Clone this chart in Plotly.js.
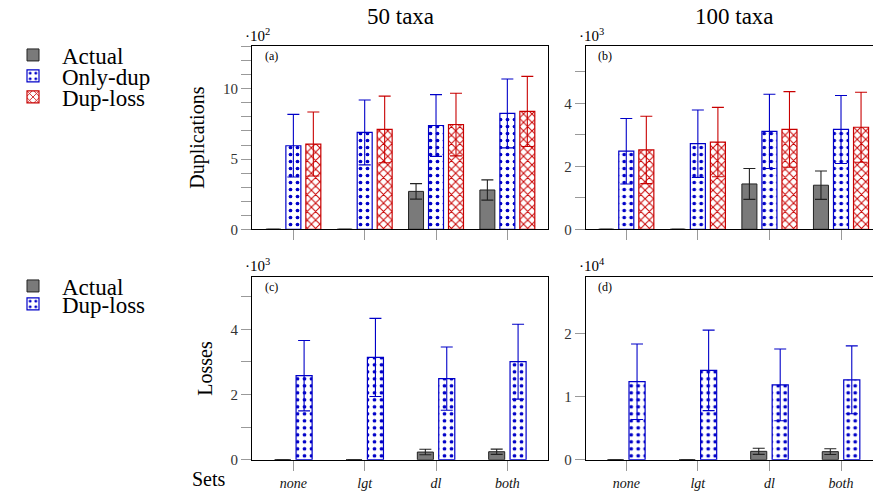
<!DOCTYPE html>
<html>
<head>
<meta charset="utf-8">
<script src="https://cdn.plot.ly/plotly-3.0.1.min.js"></script>
<style>html,body{margin:0;padding:0;background:#fff;}#chart{width:873px;height:493px;}</style>
</head>
<body>
<div id="chart"></div>
<script>
// ---- data (values in the units shown on each panel's axis) ----
const sets = ["none", "lgt", "dl", "both"];

// (a) Duplications, 50 taxa  (x10^2)
const dup50Actual      = [0, 0, 2.70, 2.80];
const dup50ActualErr   = [0, 0, 0.55, 0.72];
const dup50OnlyDup     = [5.95, 6.90, 7.39, 8.25];
const dup50OnlyDupErr  = [2.23, 2.31, 2.20, 2.45];
const dup50DupLoss     = [6.07, 7.11, 7.46, 8.39];
const dup50DupLossErr  = [2.28, 2.37, 2.23, 2.50];

// (b) Duplications, 100 taxa (x10^3)
const dup100Actual     = [0, 0, 1.44, 1.40];
const dup100ActualErr  = [0, 0, 0.49, 0.45];
const dup100OnlyDup    = [2.48, 2.72, 3.11, 3.17];
const dup100OnlyDupErr = [1.04, 1.07, 1.18, 1.08];
const dup100DupLoss    = [2.52, 2.77, 3.17, 3.24];
const dup100DupLossErr = [1.07, 1.10, 1.20, 1.11];

// (c) Losses, 50 taxa (x10^3)
const loss50Actual     = [0, 0, 0.235, 0.245];
const loss50ActualErr  = [0, 0, 0.085, 0.080];
const loss50DupLoss    = [2.58, 3.14, 2.49, 3.01];
const loss50DupLossErr = [1.08, 1.20, 0.97, 1.15];

// (d) Losses, 100 taxa (x10^4)
const loss100Actual     = [0, 0, 0.133, 0.128];
const loss100ActualErr  = [0, 0, 0.048, 0.045];
const loss100DupLoss    = [1.24, 1.42, 1.19, 1.27];
const loss100DupLossErr = [0.60, 0.64, 0.57, 0.54];

// ---- styling ----
const W = 873, H = 493;
const px = x => x / W;
const py = y => 1 - y / H;
const SERIF = "Liberation Serif";
const BLUE = "#0000c8", RED = "#c80000", GRAY = "#7a7a7a";

const styles = {
  actual:  {marker: {color: GRAY, line: {color: "#222", width: 1}}, err: "#222"},
  onlydup: {marker: {color: "white", line: {color: BLUE, width: 1.2},
            pattern: {shape: ".", fgcolor: BLUE, bgcolor: "white", size: 7, solidity: 0.22}}, err: BLUE},
  duploss: {marker: {color: "white", line: {color: RED, width: 1.2},
            pattern: {shape: "x", fgcolor: RED, bgcolor: "white", size: 6, solidity: 0.3}}, err: RED},
  duplossBlue: {marker: {color: "white", line: {color: BLUE, width: 1.2},
            pattern: {shape: ".", fgcolor: BLUE, bgcolor: "white", size: 7, solidity: 0.22}}, err: BLUE}
};

function bar(name, y, err, st, xa, ya, offset, width, legend, showlegend) {
  return {
    type: "bar", name: name, x: sets, y: y,
    xaxis: xa, yaxis: ya, offset: offset, width: width,
    marker: st.marker,
    error_y: {type: "data", array: err, visible: true, color: st.err, thickness: 1.1, width: 6},
    legend: legend, showlegend: showlegend
  };
}

const wTop = 0.21, wBot = 0.225;
const data = [
  bar("Actual",   dup50Actual,  dup50ActualErr,  styles.actual,  "x",  "y",  -0.385, wTop, "legend", true),
  bar("Only-dup", dup50OnlyDup, dup50OnlyDupErr, styles.onlydup, "x",  "y",  -0.105, wTop, "legend2", true),
  bar("Dup-loss", dup50DupLoss, dup50DupLossErr, styles.duploss, "x",  "y",   0.175, wTop, "legend3", true),
  bar("Actual",   dup100Actual,  dup100ActualErr,  styles.actual,  "x2", "y2", -0.385, wTop, "legend", false),
  bar("Only-dup", dup100OnlyDup, dup100OnlyDupErr, styles.onlydup, "x2", "y2", -0.105, wTop, "legend2", false),
  bar("Dup-loss", dup100DupLoss, dup100DupLossErr, styles.duploss, "x2", "y2",  0.175, wTop, "legend3", false),
  bar("Actual",   loss50Actual,  loss50ActualErr,  styles.actual,      "x3", "y3", -0.262, wBot, "legend4", true),
  bar("Dup-loss", loss50DupLoss, loss50DupLossErr, styles.duplossBlue, "x3", "y3",  0.038, wBot, "legend5", true),
  bar("Actual",   loss100Actual,  loss100ActualErr,  styles.actual,      "x4", "y4", -0.262, wBot, "legend4", false),
  bar("Dup-loss", loss100DupLoss, loss100DupLossErr, styles.duplossBlue, "x4", "y4",  0.038, wBot, "legend5", false)
];

const tickFont = {family: SERIF, size: 15, color: "#333"};
function xax(dom, anchor, range, labels) {
  return {
    domain: dom, anchor: anchor, type: "category", categoryorder: "array", categoryarray: sets,
    range: range, showline: true, mirror: true, linecolor: "#000", linewidth: 1,
    ticks: "outside", ticklen: 10, tickcolor: "#999", tickwidth: 1,
    showticklabels: labels, tickfont: {family: SERIF, size: 14, color: "#111", style: "italic"},
    showgrid: false, zeroline: false, fixedrange: true
  };
}
function yax(dom, anchor, range, dtick, minor, title) {
  const a = {
    domain: dom, anchor: anchor, range: range, dtick: dtick, tick0: 0,
    showline: true, mirror: true, linecolor: "#000", linewidth: 1,
    ticks: "outside", ticklen: 10, tickcolor: "#999", tickwidth: 1,
    tickfont: tickFont, showgrid: false, zeroline: false, fixedrange: true
  };
  if (minor) a.minor = {dtick: minor, ticks: "outside", ticklen: 10, tickcolor: "#999", tickwidth: 1, showgrid: false};
  if (title) a.title = {text: title, font: {family: SERIF, size: 20, color: "#000"}, standoff: 12};
  return a;
}

const xdomA = [px(252), px(548)], xdomB = [px(585.7), 1];
const ydomTop = [py(229.3), py(46)], ydomBot = [py(459.7), py(277.3)];
const rangeA = [-0.58, 3.57], rangeB = [-0.567, 3.447];

const ann = (x, y, text, size, opts) => Object.assign({
  xref: "paper", yref: "paper", x: px(x), y: py(y), text: text, showarrow: false,
  font: {family: SERIF, size: size, color: "#000"}, xanchor: "left", yanchor: "middle"
}, opts || {});

const leg = (y) => ({x: px(4), y: py(y), xanchor: "left", yanchor: "middle", bgcolor: "rgba(0,0,0,0)",
  font: {family: SERIF, size: 23, color: "#000"}, itemwidth: 48, borderwidth: 0});

const layout = {
  width: W, height: H, margin: {l: 0, r: 0, t: 0, b: 0},
  paper_bgcolor: "white", plot_bgcolor: "white",
  barmode: "group",
  font: {family: SERIF},
  xaxis: xax(xdomA, "y", rangeA, false),
  yaxis: yax(ydomTop, "x", [0, 13.05], 5, 1, "Duplications"),
  xaxis2: xax(xdomB, "y2", rangeB, false),
  yaxis2: yax(ydomTop, "x2", [0, 5.82], 2, 1, null),
  xaxis3: xax(xdomA, "y3", rangeA, true),
  yaxis3: yax(ydomBot, "x3", [0, 5.6], 2, 1, "Losses"),
  xaxis4: xax(xdomB, "y4", rangeB, true),
  yaxis4: yax(ydomBot, "x4", [0, 2.9], 1, null, null),
  legend: leg(55),
  legend2: leg(76),
  legend3: leg(97),
  legend4: leg(286),
  legend5: leg(304),
  annotations: [
    ann(400, 17, "50 taxa", 23, {xanchor: "center"}),
    ann(734, 17, "100 taxa", 23, {xanchor: "center"}),
    ann(243, 35, "·10<sup>2</sup>", 15),
    ann(577, 35, "·10<sup>3</sup>", 15),
    ann(243, 265, "·10<sup>3</sup>", 15),
    ann(577, 265, "·10<sup>4</sup>", 15),
    ann(263, 56, "(a)", 12),
    ann(596, 56, "(b)", 12),
    ann(263, 287, "(c)", 12),
    ann(596, 287, "(d)", 12),
    ann(190, 479, "Sets", 20)
  ]
};

Plotly.newPlot("chart", data, layout, {displayModeBar: false, staticPlot: true});
</script>
</body>
</html>
